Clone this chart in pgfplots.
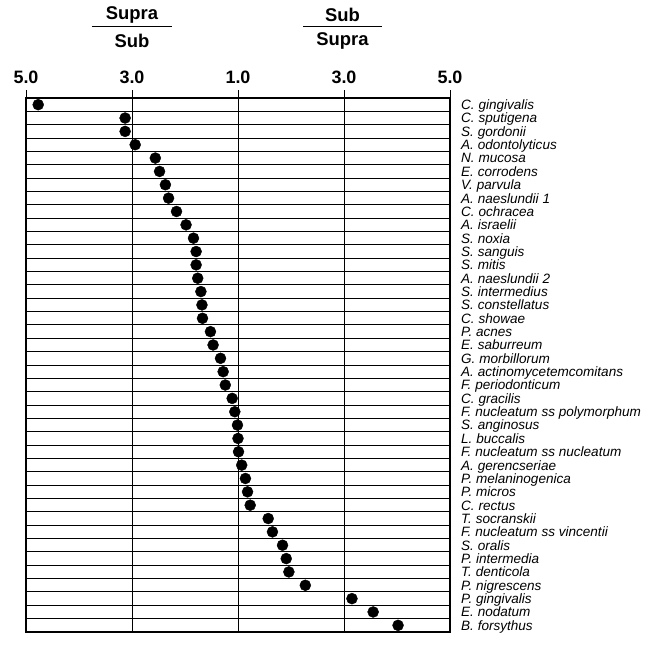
\documentclass[border=0pt]{standalone}
\usepackage{fontspec}
\setmainfont{Liberation Sans}
\usepackage{pgfplots}
\pgfplotsset{compat=1.18}
\begin{document}
\begin{tikzpicture}
\begin{axis}[
  scale only axis, width=424bp, height=534bp,
  xmin=-4, xmax=4, ymin=-0.5, ymax=39.5, y dir=reverse,
  clip=false,
  axis line style={line width=1.3pt},
  xtick={-4,-2,0,2,4}, xticklabels={5.0,3.0,1.0,3.0,5.0},
  xtick pos=upper, xticklabel pos=upper, tick align=outside,
  major tick length=8bp, minor tick length=0pt,
  xtick style={black, line width=1pt},
  xticklabel style={font=\bfseries\fontsize{18}{20}\selectfont, inner sep=0pt, anchor=south, yshift=6bp},
  xmajorgrids, major grid style={black, line width=1pt},
  ytick={0,...,39},
  yticklabels={C. gingivalis,C. sputigena,S. gordonii,A. odontolyticus,N. mucosa,E. corrodens,V. parvula,A. naeslundii 1,C. ochracea,A. israelii,S. noxia,S. sanguis,S. mitis,A. naeslundii 2,S. intermedius,S. constellatus,C. showae,P. acnes,E. saburreum,G. morbillorum,A. actinomycetemcomitans,F. periodonticum,C. gracilis,F. nucleatum ss polymorphum,S. anginosus,L. buccalis,F. nucleatum ss nucleatum,A. gerencseriae,P. melaninogenica,P. micros,C. rectus,T. socranskii,F. nucleatum ss vincentii,S. oralis,P. intermedia,T. denticola,P. nigrescens,P. gingivalis,E. nodatum,B. forsythus},
  yticklabel pos=right, ytick style={draw=none},
  yticklabel style={font=\fontsize{13.6}{13}\selectfont\itshape, anchor=base west, inner sep=0pt, xshift=3bp, yshift=-4.9bp},
  minor ytick={0.5,1.5,...,38.5}, yminorgrids,
  minor grid style={black, line width=1pt},
  minor y tick style={draw=none},
]
\addplot[only marks, mark=*, mark size=5.5bp, black] table[row sep=\\]{
x y\\
-3.77 0\\
-2.13 1\\
-2.13 2\\
-1.94 3\\
-1.56 4\\
-1.48 5\\
-1.37 6\\
-1.31 7\\
-1.16 8\\
-0.98 9\\
-0.84 10\\
-0.79 11\\
-0.79 12\\
-0.76 13\\
-0.70 14\\
-0.68 15\\
-0.67 16\\
-0.52 17\\
-0.47 18\\
-0.33 19\\
-0.28 20\\
-0.24 21\\
-0.11 22\\
-0.06 23\\
-0.01 24\\
0.00 25\\
0.01 26\\
0.07 27\\
0.14 28\\
0.18 29\\
0.23 30\\
0.57 31\\
0.65 32\\
0.84 33\\
0.91 34\\
0.96 35\\
1.27 36\\
2.15 37\\
2.55 38\\
3.02 39\\
};
\coordinate (bl) at (axis cs:-4,39.5);
\coordinate (tr) at (axis cs:4,-0.5);
\coordinate (L) at (axis cs:-2,-0.5);
\coordinate (R) at (axis cs:2,-0.5);
\end{axis}
\begin{scope}[every node/.style={font=\bfseries\fontsize{18.5}{20}\selectfont, inner sep=0pt}]
\draw[line width=1pt] ([xshift=-40bp,yshift=71bp]L) -- ([xshift=40bp,yshift=71bp]L);
\node at ([yshift=83bp]L) {Supra};
\node at ([yshift=57bp]L) {Sub};
\draw[line width=1pt] ([xshift=-41bp,yshift=71bp]R) -- ([xshift=38bp,yshift=71bp]R);
\node at ([xshift=-1.5bp,yshift=83bp]R) {Sub};
\node at ([xshift=-1.5bp,yshift=57bp]R) {Supra};
\end{scope}
\pgfresetboundingbox
\path[use as bounding box] ([xshift=-26bp,yshift=-15bp]bl) rectangle ([xshift=201bp,yshift=98bp]tr);
\end{tikzpicture}
\end{document}
